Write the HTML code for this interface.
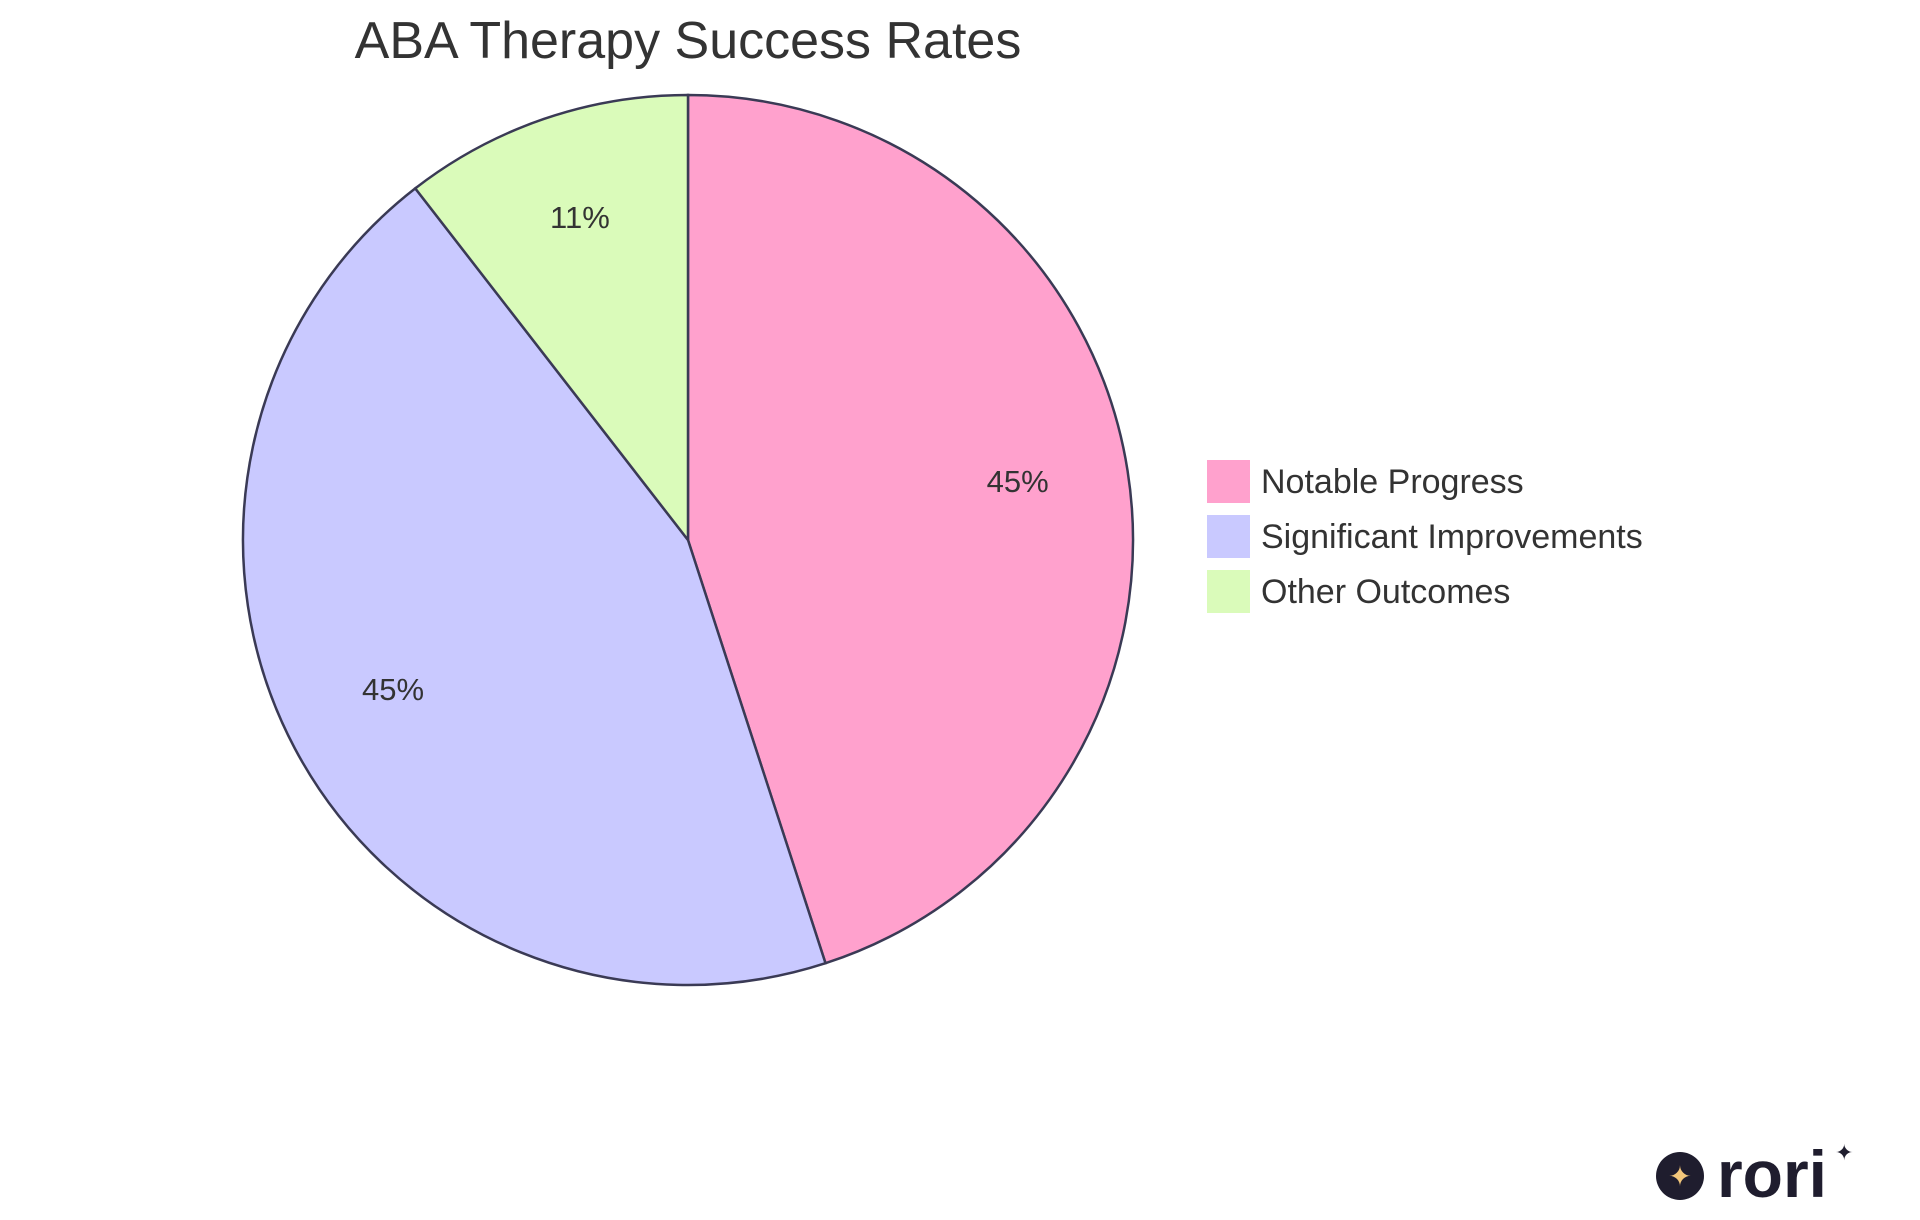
<!DOCTYPE html>
<html><head><meta charset="utf-8">
<style>
html,body{margin:0;padding:0;background:#fff;}
body{width:1920px;height:1215px;overflow:hidden;font-family:"Liberation Sans",sans-serif;}
</style></head>
<body>
<svg id="chart" width="1920" height="1215" xmlns="http://www.w3.org/2000/svg">
<text x="688" y="58" text-anchor="middle" font-size="52" fill="#333" font-family="Liberation Sans, sans-serif">ABA Therapy Success Rates</text>
<g id="slices"></g>
<g id="labels"></g>
<g id="legend"></g>
<g>
<circle cx="1680" cy="1176" r="24" fill="#1f1d2e"/>
<text x="1680" y="1186" text-anchor="middle" font-size="28" fill="#f3c77b">✦</text>
<text x="1717" y="1197" font-size="66" font-weight="bold" fill="#1f1d2e" font-family="Liberation Sans, sans-serif">rori</text>
<text x="1835" y="1160" font-size="22" fill="#1f1d2e">✦</text>
</g>
</svg>
<script>
const categories = ["Notable Progress","Significant Improvements","Other Outcomes"];
const values = [45, 44.5, 10.5];
const colors = ["#ffa1cd","#c9c9ff","#dafbba"];
const names = ["slice-notable-progress","slice-significant-improvements","slice-other-outcomes"];

const NS="http://www.w3.org/2000/svg";
const cx=688, cy=540, r=445;
const total=values.reduce((a,b)=>a+b,0);
function pt(a,rr){return [cx+rr*Math.sin(a), cy-rr*Math.cos(a)];}
let a0=0;
const sg=document.getElementById('slices'), lg=document.getElementById('labels'), leg=document.getElementById('legend');
values.forEach((v,i)=>{
  const a1=a0+v/total*2*Math.PI;
  const [x0,y0]=pt(a0,r), [x1,y1]=pt(a1,r);
  const large=(a1-a0)>Math.PI?1:0;
  const p=document.createElementNS(NS,'path');
  p.setAttribute('d',`M${cx},${cy} L${x0},${y0} A${r},${r} 0 ${large} 1 ${x1},${y1} Z`);
  p.setAttribute('fill',colors[i]);
  p.setAttribute('stroke','#3a3a55');
  p.setAttribute('stroke-width','2.5');
  
  
  sg.appendChild(p);
  const am=(a0+a1)/2;
  const [lx,ly]=pt(am,r*0.75);
  const t=document.createElementNS(NS,'text');
  t.setAttribute('x',lx); t.setAttribute('y',ly+4);
  t.setAttribute('text-anchor','middle');
  t.setAttribute('font-size','31');
  t.setAttribute('fill','#333');
  t.textContent=Math.round(v/total*100)+'%';
  
  
  lg.appendChild(t);
  const ry=459+i*55;
  const rect=document.createElementNS(NS,'rect');
  rect.setAttribute('x',1206); rect.setAttribute('y',ry);
  rect.setAttribute('width',45); rect.setAttribute('height',45);
  rect.setAttribute('fill',colors[i]);
  rect.setAttribute('stroke','#fff'); rect.setAttribute('stroke-width','2');
  
  
  leg.appendChild(rect);
  const lt=document.createElementNS(NS,'text');
  lt.setAttribute('x',1261); lt.setAttribute('y',ry+34);
  lt.setAttribute('font-size','34');
  lt.setAttribute('fill','#333');
  lt.textContent=categories[i];
  
  
  leg.appendChild(lt);
  a0=a1;
});
</script>
</body></html>
